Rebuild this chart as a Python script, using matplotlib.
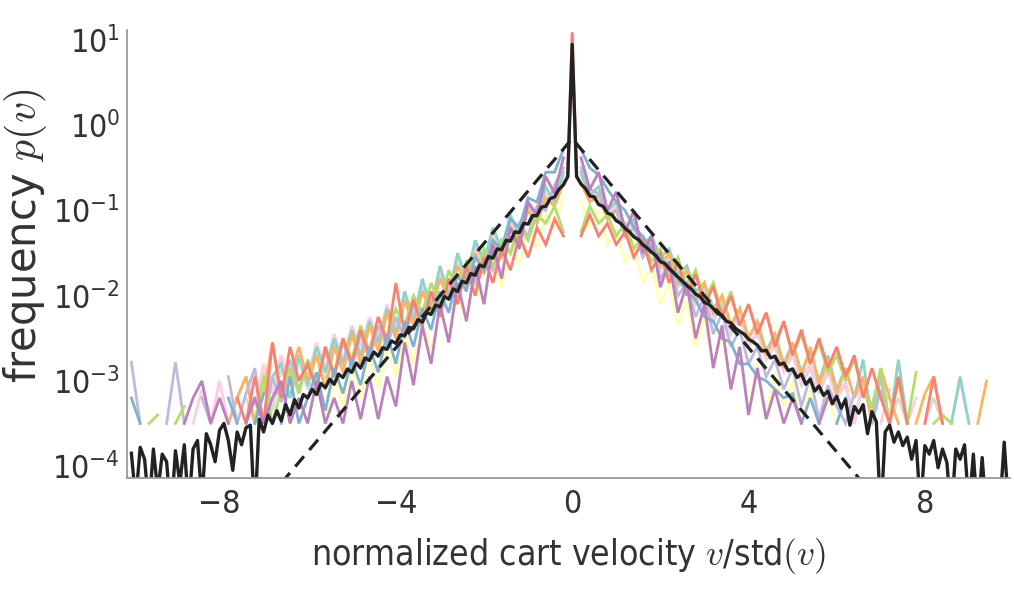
import numpy as np
import matplotlib
matplotlib.use("Agg")
import matplotlib.pyplot as plt
from matplotlib.ticker import FixedLocator, NullLocator, LogFormatterSciNotation

N = np.nan

# ---------------- data (log10 of frequency) ----------------
black_x = np.round(np.arange(-10.0, 10.0001, 0.1), 1)          # 201 bins
series_x = np.round(np.arange(-10.0, 10.0001, 0.2), 1)         # 101 bins

black_log10 = [
    -3.85, -4.40, -3.78, -3.92, -4.50, -3.80, -4.30, -3.86, -3.95, -4.60,
    -3.82, -4.20, -3.75, -4.50, -3.80, -3.70, -4.40, -3.62, -3.75, -3.95,
    -3.58, -3.50, -3.70, -4.05, -3.60, -3.75, -3.55, -3.52, -4.60, -3.45,
    -3.60, -3.40, -3.50, -3.35, -3.47, -3.28, -3.40, -3.22, -3.32, -3.16,
    -3.20, -3.10, -3.16, -3.03, -3.08, -2.98, -3.04, -2.92, -2.96, -2.86,
    -2.90, -2.79, -2.85, -2.73, -2.76, -2.66, -2.71, -2.61, -2.63, -2.53,
    -2.56, -2.46, -2.47, -2.37, -2.39, -2.28, -2.31, -2.20, -2.22, -2.11,
    -2.13, -2.01, -2.04, -1.92, -1.95, -1.83, -1.85, -1.74, -1.76, -1.64,
    -1.66, -1.54, -1.56, -1.45, -1.46, -1.35, -1.36, -1.25, -1.26, -1.15,
    -1.16, -1.06, -1.06, -0.96, -0.95, -0.86, -0.84, -0.75, -0.70, -0.60,
    0.95,
    -0.60, -0.69, -0.74, -0.83, -0.84, -0.93, -0.95, -1.03, -1.05, -1.12,
    -1.15, -1.21, -1.25, -1.31, -1.34, -1.40, -1.44, -1.49, -1.53, -1.60,
    -1.62, -1.68, -1.73, -1.78, -1.83, -1.88, -1.92, -1.98, -2.01, -2.08,
    -2.10, -2.15, -2.21, -2.23, -2.30, -2.32, -2.38, -2.42, -2.45, -2.51,
    -2.54, -2.58, -2.65, -2.64, -2.73, -2.71, -2.81, -2.79, -2.88, -2.86,
    -2.96, -2.92, -3.04, -2.98, -3.12, -3.06, -3.17, -3.12, -3.27, -3.18,
    -3.32, -3.22, -3.52, -3.30, -3.38, -3.28, -3.62, -3.36, -3.48, -4.60,
    -3.60, -3.52, -3.72, -3.60, -3.76, -3.66, -3.92, -3.70, -4.50, -3.76,
    -3.86, -3.70, -4.02, -3.80, -3.96, -4.60, -3.80, -3.92, -3.75, -4.50,
    -3.86, -4.60, -3.90, -4.60, -4.60, -4.60, -4.50, -3.72, -4.50, -4.60,
]

lightyellow_log10 = [
    N, N, N, N, N, N, N, N, N, N,
    N, N, N, N, N, N, -3.5, N, -3.5, -3.2,
    -3.5, -3.0, -3.45, -2.95, -3.3, -2.85, -3.2, -2.7, -3.1, -2.6,
    -2.95, -2.45, -2.8, -2.3, -2.65, -2.15, -2.5, -2.0, -2.3, -1.8,
    -2.1, -1.6, -1.9, -1.4, -1.65, -1.2, -1.45, -1.05, -1.2, -0.85,
    N,
    -0.9, -1.2, -1.0, -1.4, -1.25, -1.6, -1.45, -1.85, -1.65, -2.1,
    -1.85, -2.35, -2.05, -2.6, -2.25, -2.85, -2.45, -3.1, -2.6, -3.35,
    -2.8, -3.4, -2.9, -3.3, -3.0, -3.5, -3.1, -3.5, -3.2, -3.5,
    N, -3.5, N, N, N, N, N, N, N, N,
    N, N, N, N, N, N, N, N, N, N,
]

grey_log10 = [
    N, N, N, N, N, N, N, N, N, N,
    N, -3.5, N, -3.2, -3.5, -2.9, -3.35, -2.85, -3.2, -2.75,
    -3.1, -2.7, -3.0, -2.55, -2.85, -2.45, -2.75, -2.35, -2.6, -2.2,
    -2.5, -2.05, -2.35, -1.9, -2.2, -1.75, -2.05, -1.6, -1.85, -1.45,
    -1.7, -1.3, -1.55, -1.15, -1.35, -0.95, -1.15, -0.8, -0.9, -0.65,
    N,
    -0.65, -0.9, -0.8, -1.1, -1.0, -1.3, -1.2, -1.5, -1.4, -1.7,
    -1.55, -1.9, -1.75, -2.1, -1.95, -2.3, -2.1, -2.45, -2.25, -2.6,
    -2.45, -2.75, -2.6, -2.9, -2.7, -3.05, -2.85, -3.15, -2.9, -3.2,
    -3.05, -3.5, -3.0, -3.3, -2.95, -3.5, -3.2, -3.5, N, -3.5,
    -3.2, -3.5, N, N, N, N, N, N, N, N,
]

pink_log10 = [
    N, N, N, N, N, N, N, -3.5, -3.1, -3.5,
    -3.0, -3.5, -3.2, -2.95, -3.3, -2.8, -3.15, -2.7, -3.05, -2.65,
    -2.95, -2.55, -2.85, -2.45, -2.75, -2.35, -2.6, -2.25, -2.5, -2.1,
    -2.4, -1.95, -2.25, -1.85, -2.1, -1.7, -1.95, -1.55, -1.8, -1.4,
    -1.65, -1.25, -1.5, -1.1, -1.3, -0.95, -1.1, -0.8, -0.9, -0.6,
    N,
    -0.6, -0.85, -0.78, -1.05, -0.95, -1.25, -1.15, -1.45, -1.35, -1.65,
    -1.5, -1.85, -1.7, -2.05, -1.9, -2.25, -2.05, -2.4, -2.2, -2.6,
    -2.4, -2.75, -2.55, -2.9, -2.65, -3.0, -2.8, -3.1, -2.85, -3.2,
    -3.0, -3.5, -2.95, N, -3.5, -3.1, N, -3.5, -3.2, N,
    -3.5, N, -3.5, -3.0, -3.5, N, N, N, N, N,
]

teal_log10 = [
    N, N, N, N, N, N, N, N, N, N,
    N, N, -3.5, N, -3.2, -3.5, -2.95, -2.8, -3.2, -2.7,
    -3.05, -2.6, -2.9, -2.5, -2.8, -2.4, -2.7, -2.3, -2.55, -2.15,
    -2.45, -1.95, -2.3, -1.8, -2.15, -1.65, -2.0, -1.5, -1.8, -1.35,
    -1.6, -1.2, -1.45, -1.05, -1.3, -0.9, -1.1, -0.72, -0.9, -0.55,
    N,
    -0.55, -0.82, -0.72, -1.0, -0.9, -1.2, -1.1, -1.4, -1.3, -1.55,
    -1.45, -1.75, -1.65, -1.95, -1.85, -2.15, -2.0, -2.35, -2.15, -2.5,
    -2.3, -2.65, -2.45, -2.8, -2.55, -2.9, -2.65, -3.0, -2.7, -3.1,
    -2.85, -3.2, -2.75, -3.5, -3.1, -3.5, -2.75, -3.5, N, N,
    N, N, -3.5, -2.95, -3.5, N, N, N, N, N,
]

orange_log10 = [
    N, N, N, N, N, N, N, N, N, N,
    N, -3.5, -3.2, -2.95, -3.5, -3.15, -2.55, -3.2, -2.95, -2.6,
    -3.0, -2.7, -3.1, -2.6, -2.9, -2.45, -2.8, -2.35, -2.65, -2.2,
    -2.5, -2.05, -2.35, -1.95, -2.2, -1.8, -2.05, -1.65, -1.9, -1.5,
    -1.75, -1.35, -1.55, -1.2, -1.35, -1.0, -1.15, -0.85, -0.95, -0.68,
    N,
    -0.68, -0.9, -0.82, -1.1, -1.0, -1.3, -1.2, -1.45, -1.35, -1.65,
    -1.5, -1.85, -1.7, -2.05, -1.85, -2.2, -2.0, -2.35, -2.15, -2.5,
    -2.3, -2.7, -2.45, -2.85, -2.55, -2.95, -2.6, -3.05, -2.75, -3.15,
    -2.85, -3.2, -2.95, -3.5, -2.85, -3.2, -3.5, N, -3.5, -3.15,
    -2.95, -3.5, N, N, N, -3.5, -3.0, N, N, N,
]

lavender_log10 = [
    -2.78, -3.5, N, N, -3.5, -2.78, -3.5, N, -3.2, -3.5,
    N, -2.95, -3.5, -3.15, -2.85, -3.5, -2.95, -3.25, -2.75, -3.1,
    -2.8, -3.05, -2.65, -2.95, -2.55, -2.85, -2.45, -2.75, -2.35, -2.6,
    -2.25, -2.5, -2.1, -2.35, -1.95, -2.2, -1.8, -2.05, -1.65, -1.85,
    -1.5, -1.7, -1.35, -1.5, -1.15, -1.3, -0.95, -1.0, -0.7, -0.5,
    N,
    -0.5, -0.75, -0.8, -1.05, -1.0, -1.3, -1.2, -1.55, -1.4, -1.8,
    -1.6, -2.0, -1.85, -2.25, -2.0, -2.45, -2.2, -2.6, -2.4, -2.8,
    -2.6, -2.95, -2.75, -3.1, -2.85, -3.3, -2.95, -3.45, -3.05, -3.3,
    -3.5, -3.15, N, -3.5, -2.95, -3.5, N, N, -3.5, N,
    N, N, N, N, N, N, N, N, N, N,
]

green_log10 = [
    N, N, -3.5, -3.4, N, -3.5, -3.3, N, N, N,
    -3.5, N, -3.2, N, -3.5, -2.95, -3.5, -3.1, -2.85, -3.15,
    -2.75, -3.05, -2.6, -2.9, -2.5, -2.75, -2.35, -2.65, -2.25, -2.5,
    -2.15, -2.35, -2.0, -2.2, -1.85, -2.1, -1.7, -1.95, -1.6, -1.75,
    -1.45, -1.65, -1.35, -1.5, -1.2, -1.35, -1.05, -1.15, -0.95, -1.25,
    N,
    -1.25, -0.95, -1.15, -1.05, -1.3, -1.15, -1.45, -1.3, -1.6, -1.45,
    -1.75, -1.55, -1.9, -1.7, -2.05, -1.85, -2.2, -1.95, -2.35, -2.1,
    -2.45, -2.2, -2.55, -2.3, -2.7, -2.45, -2.8, -2.55, -2.9, -2.7,
    -3.0, -2.75, -3.15, -3.3, -2.85, -3.5, -3.0, -3.5, -2.9, N,
    -3.5, -3.4, -3.5, N, N, N, N, N, N, N,
]

red_log10 = [
    N, N, N, N, N, N, N, N, -3.5, N,
    -3.5, N, -3.2, -3.5, -2.95, -3.5, -2.55, -3.2, -2.6, -3.0,
    -2.8, -3.1, -2.6, -2.95, -2.5, -2.8, -2.4, -2.7, -2.25, -2.55,
    -1.85, -2.45, -2.05, -2.35, -1.95, -2.25, -1.8, -2.1, -1.65, -2.0,
    -1.55, -1.85, -1.45, -1.7, -1.3, -1.55, -1.2, -1.4, -1.1, -1.3,
    N,
    -1.3, -1.05, -1.3, -1.15, -1.4, -1.25, -1.55, -1.35, -1.7, -1.5,
    -1.85, -1.6, -2.0, -1.75, -2.1, -1.9, -2.25, -2.0, -2.35, -2.1,
    -2.45, -2.2, -2.6, -2.3, -2.7, -2.4, -2.8, -2.5, -2.85, -2.6,
    -2.95, -2.7, -3.2, -2.85, -3.2, -3.5, -2.95, -3.5, N, -3.5,
    -2.95, -3.5, N, N, N, N, N, N, N, N,
]

blue_log10 = [
    -3.2, -3.5, N, N, N, N, N, N, -3.5, N,
    N, -3.2, -3.5, N, -3.5, -3.15, N, -3.5, -2.95, -3.5,
    -3.2, -2.9, -3.35, -2.85, -3.15, -2.75, -3.05, -2.6, -2.9, -2.45,
    -2.8, -2.3, -2.6, -2.15, -2.4, -1.95, -2.2, -1.75, -1.95, -1.55,
    -1.7, -1.35, -1.45, -1.1, -1.2, -0.85, -0.9, -0.55, -0.55, -0.28,
    N,
    -0.28, -0.5, -0.58, -0.75, -0.9, -1.0, -1.2, -1.3, -1.45, -1.55,
    -1.7, -1.8, -1.95, -2.05, -2.25, -2.3, -2.5, -2.55, -2.8, -2.8,
    -2.95, -3.0, -3.1, -3.2, -3.15, -3.5, -3.2, -3.5, N, -3.5,
    -3.2, N, -3.5, N, N, -3.5, N, N, N, N,
    N, N, N, N, N, N, N, N, N, N,
]

purple_log10 = [
    N, N, N, N, N, N, -3.5, -3.2, -3.0, -3.5,
    -3.2, -3.5, N, -3.5, -3.2, -3.5, -3.2, -3.0, -3.5, -3.2,
    -3.5, -3.0, -3.5, -3.2, -3.5, -3.0, -3.45, -2.95, -3.45, -2.95,
    -3.3, -2.55, -3.05, -2.35, -2.8, -2.1, -2.55, -1.85, -2.3, -1.65,
    -2.1, -1.4, -1.8, -1.2, -1.45, -0.9, -1.05, -0.6, -0.8, -0.38,
    N,
    -0.38, -0.75, -0.55, -1.0, -0.78, -1.25, -1.0, -1.5, -1.3, -1.9,
    -1.6, -2.2, -1.85, -2.5, -2.1, -2.85, -2.35, -3.1, -2.6, -3.4,
    -2.85, -3.45, -3.1, -3.5, -3.2, -3.5, N, -3.5, -3.2, N,
    -3.5, N, N, -3.5, N, N, N, N, N, N,
    N, N, N, N, N, N, N, N, N, N,
]

# narrow peak of the red series at v = 0 (drawn on the fine grid)
red_tip_x = [-0.1, 0.0, 0.1]
red_tip_log10 = [-0.6, 1.08, -0.6]

# Laplace reference (dashed), read at a few points
dashed_x = [-6.6, -3.0, 0.0, 3.0, 6.6]
dashed_y = [6.3e-5, 1.0e-2, 0.70, 1.0e-2, 6.3e-5]

series = [
    ("#ffffb3", lightyellow_log10),
    ("#d9d9d9", grey_log10),
    ("#fccde5", pink_log10),
    ("#8dd3c7", teal_log10),
    ("#fdb462", orange_log10),
    ("#bebada", lavender_log10),
    ("#b3de69", green_log10),
    ("#fb8072", red_log10),
    ("#80b1d3", blue_log10),
    ("#bc80bd", purple_log10),
]

y_ticks = [1e-4, 1e-3, 1e-2, 1e-1, 1e0, 1e1]
x_ticks = [-8, -4, 0, 4, 8]

# ---------------- drawing ----------------
plt.rcParams["font.family"] = ["DejaVu Sans"]
plt.rcParams["font.stretch"] = "condensed"
plt.rcParams["mathtext.fontset"] = "cm"

fig = plt.figure(figsize=(10.14, 5.89), dpi=100)
ax = fig.add_axes([0.1252, 0.1885, 0.8708, 0.7606])

for color, vals in series:
    assert len(vals) == len(series_x)
    ax.plot(series_x, 10.0 ** np.array(vals, dtype=float), color=color,
            lw=2.0, solid_joinstyle="miter")

ax.plot(red_tip_x, 10.0 ** np.array(red_tip_log10), color="#fb8072", lw=2.2)

assert len(black_log10) == len(black_x)
ax.plot(black_x, 10.0 ** np.array(black_log10), color="#222222", lw=2.4)
ax.plot(dashed_x, dashed_y, color="#222222", lw=2.3, linestyle=(0, (4.2, 2.6)))

ax.set_yscale("log")
ax.set_ylim(10 ** -4.14, 10 ** 1.12)
ax.set_xlim(-10.1, 9.93)

ax.yaxis.set_major_locator(FixedLocator(y_ticks))
ax.yaxis.set_minor_locator(NullLocator())
ax.yaxis.set_major_formatter(LogFormatterSciNotation())
ax.xaxis.set_major_locator(FixedLocator(x_ticks))

for s in ("top", "right"):
    ax.spines[s].set_visible(False)
for s in ("left", "bottom"):
    ax.spines[s].set_color("#9a9a9a")
    ax.spines[s].set_linewidth(1.3)

ax.tick_params(axis="both", length=0, labelsize=23, colors="#333333", labelcolor="#333333")
ax.tick_params(axis="x", pad=8)
ax.tick_params(axis="y", pad=5)

ax.set_xlabel("normalized cart velocity $v$/std$(v)$", fontsize=25.5, color="#333333")
ax.xaxis.set_label_coords(0.5, -0.13)
ax.set_ylabel("frequency $p(v)$", fontsize=30, color="#333333", fontstretch="normal")
ax.yaxis.set_label_coords(-0.088, 0.54)

fig.savefig("out.png", dpi=100)
